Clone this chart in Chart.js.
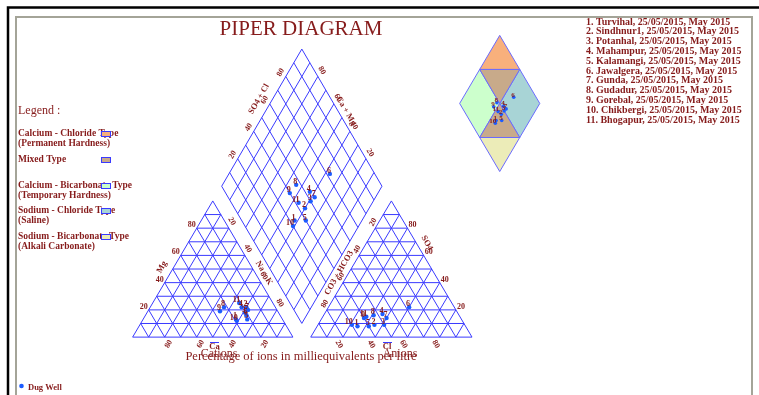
<!DOCTYPE html>
<html>
<head>
<meta charset="utf-8">
<script src="https://cdn.jsdelivr.net/npm/chart.js@4.4.0/dist/chart.umd.min.js"></script>
<style>
  html, body { margin: 0; padding: 0; background: #fff; overflow: hidden; }
  canvas { display: block; }
</style>
</head>
<body>
<canvas id="piper" width="759" height="395"></canvas>
<script>
// ── Data ───────────────────────────────────────
const stations = ['Turvihal', 'Sindhnur1', 'Potanhal', 'Mahampur', 'Kalamangi', 'Jawalgera',
                  'Gunda', 'Gudadur', 'Gorebal', 'Chikbergi', 'Bhogapur'];
const sampledOn = '25/05/2015';
const season = 'May 2015';

// cations, % of meq/l
const caPct   = [29, 18, 21, 21, 22, 21, 18, 32, 36, 29, 21];
const mgPct   = [13, 22, 18, 22, 13, 16, 20, 22, 19, 12, 25];
const naKPct  = [58, 60, 61, 57, 65, 63, 62, 46, 45, 59, 54];
// anions, % of meq/l
const hco3Pct = [67, 56, 50, 47, 60, 28, 46, 53, 60, 70, 58];
const so4Pct  = [ 8,  9,  9, 17,  8, 22, 14, 16, 14,  9, 15];
const clPct   = [25, 35, 41, 36, 32, 50, 40, 31, 26, 21, 27];

const gridSteps  = [10, 20, 30, 40, 50, 60, 70, 80, 90];
const tickLabels = [20, 40, 60, 80];

const waterTypes = ['Calcium - Chloride Type', 'Mixed Type', 'Calcium - Bicarbonate Type',
                    'Sodium - Chloride Type', 'Sodium - Bicarbonate Type'];
const typeNotes  = ['(Permanent Hardness)', '', '(Temporary Hardness)', '(Saline)', '(Alkali Carbonate)'];
// zones of the small diamond, in (SO4+Cl, Ca+Mg) percent, one list per water type
const typeZones = [
  [[[100, 100], [100, 50], [50, 100]]],
  [[[100, 50], [50, 100], [50, 50]], [[50, 50], [50, 0], [0, 50]]],
  [[[0, 50], [0, 100], [50, 100], [50, 50]]],
  [[[50, 0], [100, 0], [100, 50], [50, 50]]],
  [[[50, 0], [0, 50], [0, 0]]],
];

// ── Style / layout ─────────────────────────────
const INK = '#861b1b';
const GRID = '#3a3aff';
const DOT = '#1c5cff';
const SERIF = '"Liberation Serif", "Times New Roman", serif';
const TYPE_COLORS = ['#f8b07c', '#c8aa8a', '#ccffcc', '#a8d4d6', '#ececb8'];

const CAT  = { x0: 130, y0: 340, w: 162, h: 139 };
const ANI  = { x0: 310, y0: 340, w: 163, h: 139 };
const DIA  = { bx: 301, by: 326, dx: 81, dy: 140 };
const MINI = { bx: 501, by: 171, dx: 40.5, dy: 69.5 };

// ternary position: right = % at right corner, top = % at apex
const tri = (T, right, top) => ({ x: T.x0 + T.w * (right + top / 2) / 100, y: T.y0 - T.h * top / 100 });
// diamond position: s = SO4+Cl, c = Ca+Mg
const dia = (D, s, c) => ({ x: D.bx + D.dx * (s - c) / 100, y: D.by - D.dy * (s + c) / 100 });

const datasets = [];

function addLine(pts, color, width) {
  datasets.push({ data: pts, showLine: true, borderColor: color, borderWidth: width || 1,
                  pointRadius: 0, fill: false, order: 2 });
}

function triangleGrid(T) {
  gridSteps.forEach(k => {
    addLine([tri(T, 0, k), tri(T, 100 - k, k)], GRID);
    addLine([tri(T, 0, 100 - k), tri(T, 100 - k, 0)], GRID);
    addLine([tri(T, k, 0), tri(T, k, 100 - k)], GRID);
  });
  addLine([tri(T, 0, 0), tri(T, 100, 0), tri(T, 0, 100), tri(T, 0, 0)], GRID);
}

function diamondGrid(D) {
  gridSteps.forEach(k => {
    addLine([dia(D, k, 0), dia(D, k, 100)], GRID);
    addLine([dia(D, 0, k), dia(D, 100, k)], GRID);
  });
  addLine([dia(D, 0, 0), dia(D, 100, 0), dia(D, 100, 100), dia(D, 0, 100), dia(D, 0, 0)], GRID);
}

triangleGrid(CAT);
triangleGrid(ANI);
diamondGrid(DIA);

// coloured zones of the small diamond
typeZones.forEach((polys, t) => {
  polys.forEach(poly => {
    const pts = poly.map(p => dia(MINI, p[0], p[1]));
    pts.push(pts[0]);
    datasets.push({ data: pts, showLine: true, fill: 'shape', backgroundColor: TYPE_COLORS[t],
                    borderColor: '#6a6aff', borderWidth: 1, pointRadius: 0, order: 3 });
  });
});

// sample points
const sumCaMg = caPct.map((v, i) => v + mgPct[i]);
const sumSo4Cl = so4Pct.map((v, i) => v + clPct[i]);
const pointSets = {
  cation: stations.map((_, i) => tri(CAT, naKPct[i], mgPct[i])),
  anion:  stations.map((_, i) => tri(ANI, clPct[i], so4Pct[i])),
  diamond: stations.map((_, i) => dia(DIA, sumSo4Cl[i], sumCaMg[i])),
  mini:   stations.map((_, i) => dia(MINI, sumSo4Cl[i], sumCaMg[i])),
};
const pointIdx = {};
Object.keys(pointSets).forEach(k => {
  pointIdx[k] = datasets.length;
  datasets.push({ data: pointSets[k], showLine: false, pointRadius: k === 'mini' ? 1.8 : 2.2,
                  pointBackgroundColor: DOT, pointBorderWidth: 0, order: 0 });
});

// ── Text and frame ─────────────────────────────
function label(ctx, str, x, y, font, opt) {
  opt = opt || {};
  ctx.save();
  ctx.translate(x, y);
  if (opt.rot) ctx.rotate(opt.rot * Math.PI / 180);
  ctx.font = font;
  ctx.fillStyle = opt.color || INK;
  ctx.textAlign = opt.align || 'center';
  ctx.textBaseline = opt.base || 'middle';
  ctx.fillText(str, 0, 0);
  ctx.restore();
}

const piperText = {
  id: 'piperText',
  beforeDraw(chart) {
    const ctx = chart.ctx;
    ctx.save();
    ctx.strokeStyle = '#000';
    ctx.lineWidth = 2.5;
    ctx.beginPath();
    ctx.moveTo(8, 400); ctx.lineTo(8, 7.5); ctx.lineTo(760, 7.5);
    ctx.stroke();
    ctx.strokeStyle = '#a4a498';
    ctx.lineWidth = 2;
    ctx.beginPath();
    ctx.moveTo(16, 400); ctx.lineTo(16, 17); ctx.lineTo(752, 17); ctx.lineTo(752, 400);
    ctx.stroke();
    ctx.restore();
  },
  afterDatasetsDraw(chart) {
    const ctx = chart.ctx;
    const sx = chart.scales.x, sy = chart.scales.y;
    const P = p => ({ x: sx.getPixelForValue(p.x), y: sy.getPixelForValue(p.y) });
    const TICK = 'bold 8px ' + SERIF;
    const NAME = 'bold 8.5px ' + SERIF;

    label(ctx, 'PIPER DIAGRAM', 301, 29, '21px ' + SERIF);

    // station list
    stations.forEach((s, i) => {
      label(ctx, `${i + 1}. ${s}, ${sampledOn}, ${season}`, 586, 22 + i * 9.8,
            'bold 10px ' + SERIF, { align: 'left' });
    });

    // legend
    label(ctx, 'Legend :', 18, 111, '12px ' + SERIF, { align: 'left' });
    const legendY = [134, 160, 186, 211, 237];
    waterTypes.forEach((t, i) => {
      label(ctx, t, 18, legendY[i], 'bold 9.5px ' + SERIF, { align: 'left' });
      if (typeNotes[i]) label(ctx, typeNotes[i], 18, legendY[i] + 10, 'bold 9.5px ' + SERIF, { align: 'left' });
      ctx.fillStyle = TYPE_COLORS[i];
      ctx.fillRect(101, legendY[i] - 2.5, 9, 5);
      ctx.strokeStyle = '#3a3aff';
      ctx.lineWidth = 1;
      ctx.strokeRect(101.5, legendY[i] - 2.5, 9, 5);
    });

    // cation triangle ticks
    tickLabels.forEach(v => {
      let p = P(tri(CAT, 0, v));
      label(ctx, String(v), p.x - 1, p.y - 3, TICK, { align: 'right' });
      p = P(tri(CAT, 100 - v, 0));
      label(ctx, String(v), p.x + 4, p.y + 7, TICK, { rot: -60 });
      p = P(tri(CAT, v, 100 - v));
      label(ctx, String(v), p.x + 3, p.y - 7, TICK, { rot: 60 });
    });
    label(ctx, 'Mg', 162, 267, NAME, { rot: -60 });
    label(ctx, 'Na + K', 264, 273, NAME, { rot: 60 });
    label(ctx, 'Ca', 214.5, 347, NAME);

    // anion triangle ticks
    tickLabels.forEach(v => {
      let p = P(tri(ANI, 100 - v, v));
      label(ctx, String(v), p.x + 1, p.y - 3, TICK, { align: 'left' });
      p = P(tri(ANI, v, 0));
      label(ctx, String(v), p.x - 4, p.y + 7, TICK, { rot: 60 });
      p = P(tri(ANI, 0, 100 - v));
      label(ctx, String(v), p.x - 2, p.y - 6, TICK, { rot: -60 });
    });
    label(ctx, 'CO3 + HCO3', 339, 273, NAME, { rot: -60 });
    label(ctx, 'SO4', 427, 243, NAME, { rot: 60 });
    label(ctx, 'Cl', 387, 347, NAME);

    // diamond ticks
    tickLabels.forEach(v => {
      let p = P(dia(DIA, v, 100));
      label(ctx, String(v), p.x - 5, p.y - 4, TICK, { rot: -60 });
      p = P(dia(DIA, 100, v));
      label(ctx, String(v), p.x + 4, p.y - 6, TICK, { rot: 60 });
    });
    label(ctx, 'SO4 + Cl', 259, 99, NAME, { rot: -60 });
    label(ctx, 'Ca + Mg', 346, 111, NAME, { rot: 60 });

    // small axis markers
    ctx.save();
    ctx.strokeStyle = GRID;
    ctx.lineWidth = 1;
    ctx.beginPath();
    ctx.moveTo(210, 342.5); ctx.lineTo(219, 342.5);
    ctx.moveTo(383, 342.5); ctx.lineTo(392, 342.5);
    ctx.stroke();
    ctx.restore();

    // sample numbers
    ['cation', 'anion', 'diamond'].forEach(k => {
      chart.getDatasetMeta(pointIdx[k]).data.forEach((el, i) => {
        label(ctx, String(i + 1), el.x + 1, el.y + 1, 'bold 8px ' + SERIF, { align: 'right', base: 'bottom' });
      });
    });
    chart.getDatasetMeta(pointIdx.mini).data.forEach((el, i) => {
      label(ctx, String(i + 1), el.x + 1, el.y + 1, 'bold 7px ' + SERIF, { align: 'right', base: 'bottom' });
    });

    // bottom captions
    label(ctx, 'Cations', 219, 354, '12px ' + SERIF);
    label(ctx, 'Anions', 400, 354, '12px ' + SERIF);
    label(ctx, 'Percentage of ions in milliequivalents per litre', 301, 357, '12.5px ' + SERIF);

    // well type key
    ctx.save();
    ctx.fillStyle = DOT;
    ctx.beginPath();
    ctx.arc(21.5, 386, 2.3, 0, Math.PI * 2);
    ctx.fill();
    ctx.restore();
    label(ctx, 'Dug Well', 28, 388, 'bold 8.5px ' + SERIF, { align: 'left' });
  }
};

new Chart(document.getElementById('piper'), {
  type: 'scatter',
  data: { datasets },
  options: {
    responsive: false,
    animation: false,
    events: [],
    layout: { padding: 0 },
    scales: {
      x: { type: 'linear', min: 0, max: 759, display: false },
      y: { type: 'linear', min: 0, max: 395, reverse: true, display: false },
    },
    plugins: { legend: { display: false }, tooltip: { enabled: false } },
  },
  plugins: [piperText],
});
</script>
</body>
</html>
